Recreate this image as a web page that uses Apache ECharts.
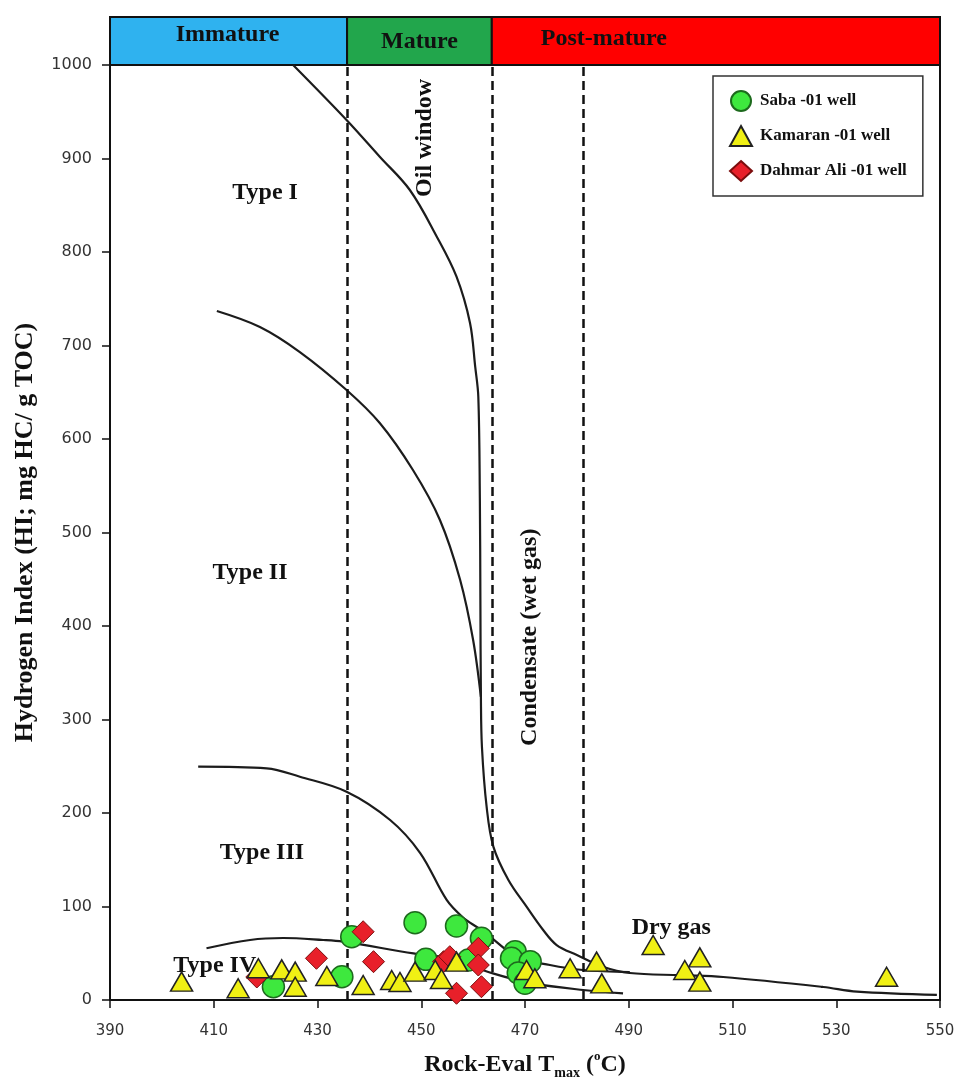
<!DOCTYPE html>
<html>
<head>
<meta charset="utf-8">
<title>Hydrogen Index vs Rock-Eval Tmax</title>
<script src="https://cdn.jsdelivr.net/npm/echarts@6/dist/echarts.min.js"></script>
<style>
  html, body { margin: 0; padding: 0; background: #ffffff; }
  #chart { width: 956px; height: 1078px; }
</style>
</head>
<body>
<div id="chart"></div>
<script>
// Axis ticks
const tmaxTicks = [390, 410, 430, 450, 470, 490, 510, 530, 550];
const hiTicks = [0, 100, 200, 300, 400, 500, 600, 700, 800, 900, 1000];

// Thermal maturity stages (header band)
const stageNames = ['Immature', 'Mature', 'Post-mature'];
const stageBounds = [390, 435.7, 463.6, 550];
const stageColors = ['#2fb2ef', '#22a64c', '#ff0000'];

// Dashed Tmax boundaries: oil window start, oil window end, wet gas end
const zoneBoundaries = [435.7, 463.6, 481.2];

// Kerogen type evolution curves [Tmax, HI]
const typeICurve = [
  [425.3, 1000], [435.6, 941.2], [442.0, 901.9], [447.8, 866.3], [453.0, 816.4],
  [456.8, 773.6], [459.4, 724.1], [460.4, 677.3], [461.0, 645.2], [461.3, 534.8],
  [461.4, 427.8], [461.5, 324.1], [461.7, 270.6], [462.6, 206.7], [463.9, 164.0],
  [466.8, 128.3], [470.3, 99.8], [473.5, 74.9], [476.1, 58.8], [480.0, 48.1],
  [485.0, 35.6], [490.2, 28.9], [500.0, 26.5], [508.2, 24.6], [527.5, 13.9],
  [534.0, 9.0], [549.4, 5.5]
];
const typeIICurve = [
  [410.6, 736.9], [418.9, 719.8], [426.6, 693.0], [435.6, 652.4], [442.0, 617.1],
  [448.4, 566.8], [453.6, 513.4], [457.5, 449.2], [460.0, 385.0], [461.5, 324.1]
];
const typeIIICurve = [
  [407.0, 249.5], [420.2, 247.8], [426.6, 238.8], [435.6, 222.8], [444.0, 192.5],
  [449.8, 157.2], [454.9, 107.0], [458.1, 88.0], [461.0, 77.0], [463.3, 67.5],
  [468.4, 46.3], [474.8, 37.4], [481.2, 32.1], [490.2, 29.9]
];
const typeIVCurve = [
  [408.6, 55.3], [417.0, 64.2], [423.4, 66.3], [431.1, 64.2], [434.9, 62.4],
  [448.5, 49.9], [455.5, 44.6], [463.8, 28.5], [471.5, 17.8], [481.2, 10.7],
  [488.9, 7.1]
];

// Samples [Tmax (°C), HI (mg HC/g TOC)]
const sabaWell = [
  [421.5, 14.2], [434.7, 24.9], [436.6, 67.7], [448.8, 82.7], [456.8, 79.1],
  [450.9, 43.5], [459.1, 42.8], [461.6, 66.0], [468.1, 51.7], [467.4, 44.6],
  [471.0, 41.0], [468.7, 28.9], [470.0, 17.9]
];
const kamaranWell = [
  [403.8, 19.6], [414.7, 12.5], [418.6, 33.9], [423.1, 32.8], [425.7, 30.3],
  [425.7, 14.2], [431.8, 25.7], [438.8, 16.0], [444.3, 21.4], [445.9, 19.3],
  [448.8, 30.3], [452.7, 32.1], [453.9, 22.5], [456.8, 41.0], [470.3, 32.1],
  [471.9, 23.2], [478.7, 33.9], [483.8, 41.0], [484.8, 17.8], [494.7, 58.8],
  [503.7, 45.6], [500.8, 32.1], [503.7, 19.6], [539.7, 24.9]
];
const dahmarAliWell = [
  [418.3, 24.6], [429.8, 44.6], [438.8, 73.0], [440.8, 41.0], [454.3, 41.0],
  [455.5, 46.3], [456.8, 7.2], [461.0, 55.3], [461.0, 37.4], [461.6, 14.2]
];

// Field labels placed at [Tmax, HI]
const annotationText = ['Type I', 'Type II', 'Type III', 'Type IV', 'Dry gas', 'Oil window', 'Condensate (wet gas)'];
const annotationVertical = [false, false, false, false, false, true, true];
const annotationAt = [
  [419.9, 863], [417.0, 457], [419.3, 157], [410.2, 37], [498.2, 77], [450.7, 922], [471.0, 388]
];

const serif = '"Liberation Serif", "Times New Roman", serif';
const sans = '"DejaVu Sans", Verdana, sans-serif';
const inkColor = '#111111';

const chart = echarts.init(document.getElementById('chart'), null, { renderer: 'canvas' });

const curveStyle = { color: '#1c1c1c', width: 2.2 };
function curveSeries(name, data) {
  return {
    name: name, type: 'line', data: data, showSymbol: false, symbol: 'none',
    smooth: 0.35, lineStyle: curveStyle, silent: true, z: 3
  };
}

const stageAreas = stageNames.map((name, i) => [
  {
    xAxis: stageBounds[i], name: name,
    itemStyle: { color: stageColors[i] },
    label: { offset: [[-1, -6], [0, 1], [-112, -2]][i] }
  },
  { xAxis: stageBounds[i + 1] }
]);

const option = {
  animation: false,
  backgroundColor: '#ffffff',
  legend: {
    data: ['Saba -01 well', 'Kamaran -01 well', 'Dahmar Ali -01 well'],
    orient: 'vertical',
    left: 713, top: 76,
    padding: [14, 16, 14, 16],
    itemGap: 13, itemWidth: 22, itemHeight: 20,
    backgroundColor: '#ffffff', borderColor: '#333333', borderWidth: 1.5,
    textStyle: { fontFamily: serif, fontWeight: 'bold', fontSize: 17, color: inkColor, padding: [0, 0, 0, 3] }
  },
  grid: [
    {
      left: 110, top: 65, width: 830, height: 935, containLabel: false, outerBoundsMode: 'none',
      show: true, borderColor: inkColor, borderWidth: 2, backgroundColor: 'transparent'
    },
    { left: 110, top: 17, width: 830, height: 48, containLabel: false, outerBoundsMode: 'none' }
  ],
  xAxis: [
    {
      type: 'value', gridIndex: 0,
      min: tmaxTicks[0], max: tmaxTicks[tmaxTicks.length - 1], interval: tmaxTicks[1] - tmaxTicks[0],
      axisLine: { onZero: false, lineStyle: { color: inkColor, width: 2 } },
      axisTick: { show: true, length: 8, lineStyle: { color: inkColor, width: 1.5 } },
      axisLabel: { margin: 24, fontFamily: sans, fontSize: 15, color: '#333333' },
      splitLine: { show: false },
      name: '{a|Rock-Eval T}{s|max}{a| (}{p|o}{a|C)}',
      nameLocation: 'middle', nameGap: 50,
      nameTextStyle: {
        rich: {
          a: { fontFamily: serif, fontWeight: 'bold', fontSize: 24, color: inkColor, lineHeight: 30 },
          s: { fontFamily: serif, fontWeight: 'bold', fontSize: 14, color: inkColor, lineHeight: 14, verticalAlign: 'bottom' },
          p: { fontFamily: serif, fontWeight: 'bold', fontSize: 13, color: inkColor, lineHeight: 13, verticalAlign: 'top' }
        }
      }
    },
    { type: 'value', gridIndex: 1, min: stageBounds[0], max: stageBounds[3], show: false }
  ],
  yAxis: [
    {
      type: 'value', gridIndex: 0,
      min: hiTicks[0], max: hiTicks[hiTicks.length - 1], interval: hiTicks[1] - hiTicks[0],
      axisLine: { lineStyle: { color: inkColor, width: 2 } },
      axisTick: { show: true, length: 8, lineStyle: { color: inkColor, width: 1.5 } },
      axisLabel: { margin: 18, fontFamily: sans, fontSize: 16, color: '#333333', formatter: v => String(v) },
      splitLine: { show: false },
      name: 'Hydrogen Index (HI; mg HC/ g TOC)',
      nameLocation: 'middle', nameGap: 72,
      nameTextStyle: { fontFamily: serif, fontWeight: 'bold', fontSize: 26, color: inkColor }
    },
    { type: 'value', gridIndex: 1, min: 0, max: 1, show: false }
  ],
  series: [
    {
      name: 'stages', type: 'line', xAxisIndex: 1, yAxisIndex: 1,
      data: [[stageBounds[0], 0]], showSymbol: false, symbol: 'none', lineStyle: { opacity: 0 }, silent: true,
      markArea: {
        silent: true,
        itemStyle: { borderColor: inkColor, borderWidth: 2 },
        label: { show: true, position: 'inside', fontFamily: serif, fontWeight: 'bold', fontSize: 24, color: inkColor },
        data: stageAreas
      }
    },
    {
      name: 'boundaries', type: 'line', data: [[zoneBoundaries[0], 0]], showSymbol: false, symbol: 'none',
      lineStyle: { opacity: 0 }, silent: true,
      markLine: {
        silent: true, symbol: ['none', 'none'], label: { show: false },
        lineStyle: { color: inkColor, width: 2.5, type: [9, 5] },
        data: zoneBoundaries.map(v => ({ xAxis: v }))
      }
    },
    curveSeries('Type I', typeICurve),
    curveSeries('Type II', typeIICurve),
    curveSeries('Type III', typeIIICurve),
    curveSeries('Type IV', typeIVCurve),
    {
      name: 'labels', type: 'custom', clip: false, silent: true, z: 4,
      data: annotationAt,
      renderItem: function (params, api) {
        const p = api.coord([api.value(0), api.value(1)]);
        const i = params.dataIndex;
        return {
          type: 'text', x: p[0], y: p[1],
          rotation: annotationVertical[i] ? Math.PI / 2 : 0,
          style: {
            text: annotationText[i], fill: inkColor,
            font: 'bold 24px ' + serif, align: 'center', verticalAlign: 'middle'
          }
        };
      }
    },
    {
      name: 'Saba -01 well', type: 'scatter', data: sabaWell, z: 5,
      symbol: 'circle', symbolSize: 22,
      itemStyle: { color: '#3ee83e', borderColor: '#1d6a1d', borderWidth: 1.5, opacity: 1 }
    },
    {
      name: 'Dahmar Ali -01 well', type: 'scatter', data: dahmarAliWell, z: 5,
      symbol: 'diamond', symbolSize: 22,
      itemStyle: { color: '#e8202a', borderColor: '#7a0d0d', borderWidth: 1, opacity: 1 }
    },
    {
      name: 'Kamaran -01 well', type: 'scatter', data: kamaranWell, z: 5,
      symbol: 'triangle', symbolSize: [22, 19],
      itemStyle: { color: '#f0f014', borderColor: '#222222', borderWidth: 1.5, opacity: 1 }
    }
  ]
};

chart.setOption(option);
</script>
</body>
</html>
